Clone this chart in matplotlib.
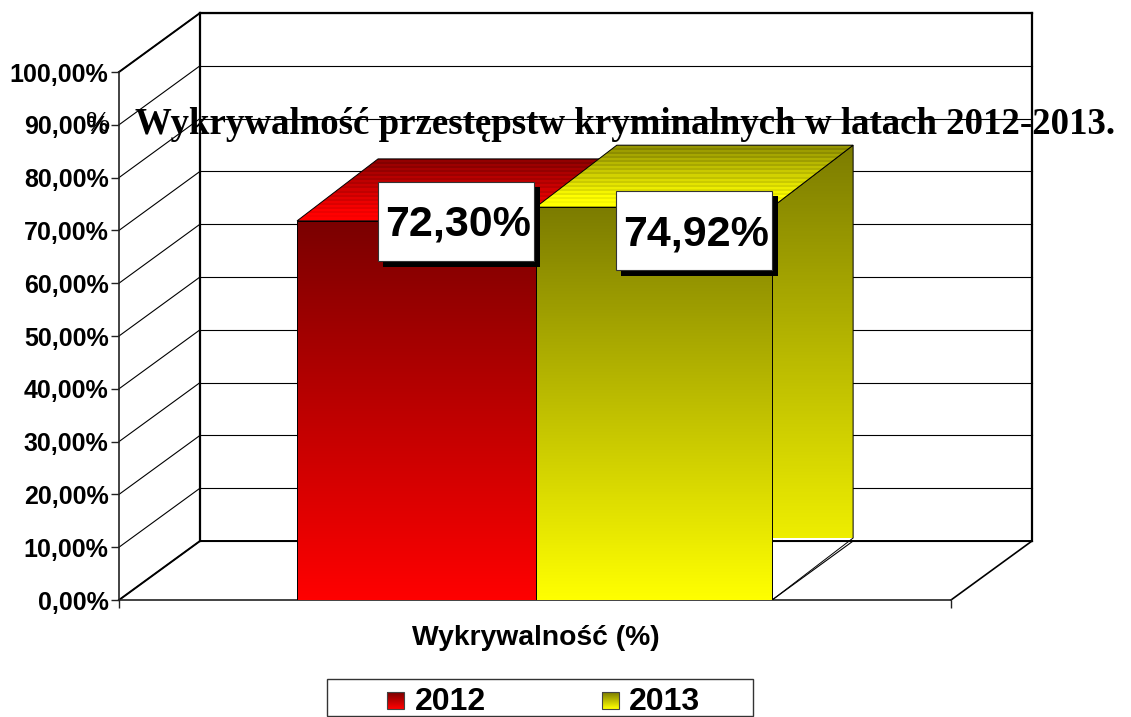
import numpy as np
import matplotlib
matplotlib.use('Agg')
import matplotlib.pyplot as plt
from matplotlib.colors import LinearSegmentedColormap
from matplotlib.patches import Polygon, Rectangle

W, H = 1131, 717

years = ['2012', '2013']
# height as drawn in the picture, a little under the printed value
bar_heights = [71.8, 74.4]
bar_labels = ['72,30%', '74,92%']
y_ticks = [0, 10, 20, 30, 40, 50, 60, 70, 80, 90, 100]
y_tick_labels = ['0,00%', '10,00%', '20,00%', '30,00%', '40,00%', '50,00%',
                 '60,00%', '70,00%', '80,00%', '90,00%', '100,00%']
x_label = 'Wykrywalność (%)'
title = 'Wykrywalność przestępstw kryminalnych w latach 2012-2013.'

bar_left = [0.214, 0.501]
bar_width = [0.287, 0.284]
dark = ['#7a0000', '#7c7c00']
bright = ['#ff0000', '#ffff00']
side_bright = ['#ee0000', '#eeee00']

# depth of the fake 3D walls and bars, in axis units
wall_dx = 81 / 832
wall_dy = 59 / 5.28
bar_dy = 62 / 5.28

plt.rcParams['font.family'] = ['Liberation Sans', 'DejaVu Sans']

fig = plt.figure(figsize=(W / 100, H / 100), dpi=100)
ax = fig.add_axes([119 / W, (H - 600) / H, 832 / W, 528 / H])
ax.patch.set_visible(False)


def fill(poly, c_low, c_high, y0, y1, x0, x1, z, stripes=False):
    cmap = LinearSegmentedColormap.from_list('g', [c_low, c_high])
    if stripes:
        g = np.linspace(0, 1, 31)
        g[1::2] = g[1::2] - 0.16
        g = np.clip(g, 0, 1).reshape(-1, 1)
    else:
        g = np.linspace(0, 1, 256).reshape(-1, 1)
    im = ax.imshow(g, cmap=cmap, vmin=0, vmax=1, extent=(x0, x1, y0, y1), origin='lower',
                   aspect='auto', interpolation='nearest', zorder=z, clip_on=True)
    poly.set_transform(ax.transData)
    im.set_clip_path(poly)
    edge = Polygon(poly.get_xy(), closed=True, fc='none', ec='black', lw=0.7, zorder=z + 0.1)
    ax.add_patch(edge)


# back wall, side wall and floor
for t in y_ticks:
    ax.plot([0, wall_dx], [t, t + wall_dy], color='black', lw=0.8, zorder=1, clip_on=False)
    ax.plot([wall_dx, 1 + wall_dx], [t + wall_dy, t + wall_dy], color='black', lw=0.8, zorder=1, clip_on=False)
ax.plot([wall_dx, wall_dx], [wall_dy, 100 + wall_dy], color='black', lw=1.6, zorder=1, clip_on=False)
ax.plot([1 + wall_dx, 1 + wall_dx], [wall_dy, 100 + wall_dy], color='black', lw=1.6, zorder=1, clip_on=False)
ax.plot([wall_dx, 1 + wall_dx], [100 + wall_dy, 100 + wall_dy], color='black', lw=1.6, zorder=1, clip_on=False)
ax.plot([0, wall_dx], [100, 100 + wall_dy], color='black', lw=1.4, zorder=1, clip_on=False)
ax.plot([wall_dx, 1 + wall_dx], [wall_dy, wall_dy], color='black', lw=1.4, zorder=1, clip_on=False)
ax.plot([0, wall_dx], [0, wall_dy], color='black', lw=1.4, zorder=1, clip_on=False)
ax.plot([1, 1 + wall_dx], [0, wall_dy], color='black', lw=1.2, zorder=1, clip_on=False)

# the bars, 2012 first so that 2013 covers it
for i in range(len(years)):
    x0 = bar_left[i]
    x1 = x0 + bar_width[i]
    h = bar_heights[i]
    z = 2 + i
    ax.plot([x1, x1 + wall_dx], [0, wall_dy], color='black', lw=0.8, zorder=z)
    side = Polygon([(x1, 0), (x1 + wall_dx, bar_dy), (x1 + wall_dx, h + bar_dy), (x1, h)], closed=True)
    fill(side, side_bright[i], dark[i], bar_dy, h + bar_dy, x1, x1 + wall_dx, z)
    top = Polygon([(x0, h), (x0 + wall_dx, h + bar_dy), (x1 + wall_dx, h + bar_dy), (x1, h)], closed=True)
    fill(top, bright[i], dark[i], h, h + bar_dy, x0, x1 + wall_dx, z + 0.2, stripes=True)
    front = ax.bar(x0, h, width=bar_width[i], align='edge', color='none', edgecolor='black', lw=0.7, zorder=z + 0.5)[0]
    im = ax.imshow(np.linspace(0, 1, 256).reshape(-1, 1),
                   cmap=LinearSegmentedColormap.from_list('f', [bright[i], dark[i]]),
                   extent=(x0, x1, 0, h), origin='lower', aspect='auto', zorder=z + 0.4)
    im.set_clip_path(Rectangle((x0, 0), bar_width[i], h, transform=ax.transData))

ax.set_xlim(0, 1)
ax.set_ylim(0, 100)
ax.set_yticks(y_ticks)
ax.set_yticklabels(y_tick_labels, fontsize=18, fontweight='bold')
ax.set_xticks([0, 1])
ax.set_xticklabels(['', ''])
ax.tick_params(axis='both', length=5.5, width=1.0, pad=2, color='#222222')
for s in ['top', 'right']:
    ax.spines[s].set_visible(False)
for s in ['left', 'bottom']:
    ax.spines[s].set_linewidth(1.2)
    ax.spines[s].set_color('#222222')
    ax.spines[s].set_zorder(1.5)

# overlay in picture pixels for text boxes and the legend
pix = fig.add_axes([0, 0, 1, 1], zorder=5)
pix.set_xlim(0, W)
pix.set_ylim(H, 0)
pix.axis('off')

box_x = [378, 616]
box_y = [182, 191]
for i in range(len(years)):
    pix.add_patch(Rectangle((box_x[i] + 5, box_y[i] + 5), 157, 80, fc='black', ec='black', lw=0))
    pix.add_patch(Rectangle((box_x[i], box_y[i]), 156, 79, fc='white', ec='#333333', lw=0.8))
    pix.text(box_x[i] + 80, box_y[i] + 43, bar_labels[i], fontsize=31, fontweight='bold',
             ha='center', va='center')

pix.text(536, 638, x_label, fontsize=20.3, fontweight='bold', ha='center', va='center')
pix.text(625, 125, title, fontsize=26.6, fontweight='bold', family='Liberation Serif',
         ha='center', va='center')
pix.text(98, 124, '%', fontsize=21, family='Liberation Serif', ha='center', va='center')

# legend
pix.add_patch(Rectangle((327, 679), 426, 37, fc='white', ec='#333333', lw=1.0))
key_x = [387, 602]
text_x = [415, 629]
for i in range(len(years)):
    g = np.linspace(0, 1, 32).reshape(-1, 1)
    pix.imshow(g, cmap=LinearSegmentedColormap.from_list('k', [bright[i], dark[i]]),
               extent=(key_x[i], key_x[i] + 17, 709, 692), origin='lower', aspect='auto', zorder=3)
    pix.add_patch(Rectangle((key_x[i], 692), 17, 17, fc='none', ec='#444444', lw=0.8, zorder=4))
    pix.text(text_x[i], 702, years[i], fontsize=23, fontweight='bold', ha='left', va='center')
pix.set_xlim(0, W)
pix.set_ylim(H, 0)

fig.savefig('out.png', dpi=100)
